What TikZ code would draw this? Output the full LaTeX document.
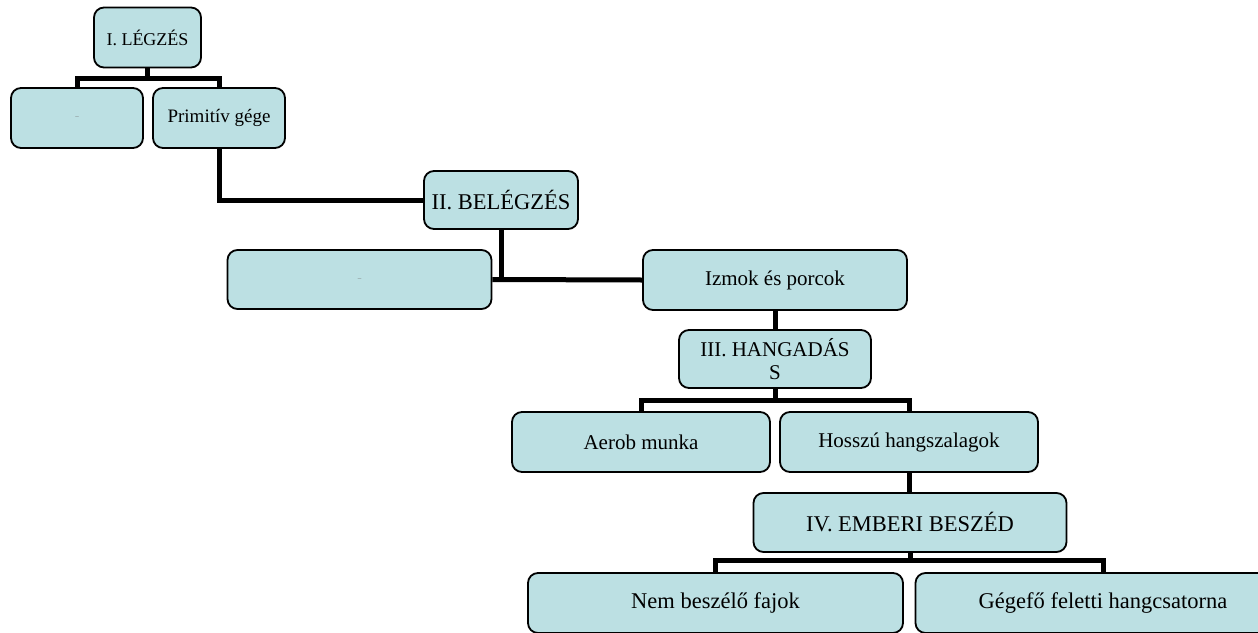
\documentclass[tikz,border=0pt]{standalone}
\usepackage{fontspec}
\setmainfont{Liberation Serif}
\definecolor{boxfill}{HTML}{BCE0E3}
\tikzset{
  orgbox/.style={draw=black, line width=1.8pt, fill=boxfill, rounded corners=10pt,
    align=center, inner sep=2pt, font=\fontsize{21}{24}\selectfont},
  bigtext/.style={font=\fontsize{22.5}{26}\selectfont},
  conn/.style={line width=5pt, black}
}
\begin{document}
\begin{tikzpicture}[x=1pt, y=-1pt]
    % Page frame
    \clip (0,0) rectangle (1258,632);
    \fill[white] (0,0) rectangle (1258,632);

    % Draw boxes
    \node[orgbox, minimum width=107pt, minimum height=60pt, font=\fontsize{18}{21}\selectfont] (legz) at (147.5,37.5) {I. LÉGZÉS};
    \node[orgbox, minimum width=132pt, minimum height=60pt, font=\fontsize{7}{8}\selectfont, text=black!55] (empty1) at (77,118) {–};
    \node[orgbox, minimum width=132pt, minimum height=60pt, font=\fontsize{19}{22}\selectfont] (gege) at (219,118) {Primitív gége};
    \node[orgbox, bigtext, minimum width=154pt, minimum height=58pt] (beleg) at (501,200) {II. BELÉGZÉS};
    \node[orgbox, minimum width=264pt, minimum height=59pt, font=\fontsize{7}{8}\selectfont, text=black!55] (empty2) at (359.5,279.5) {–};
    \node[orgbox, minimum width=264pt, minimum height=60pt] (izmok) at (775,280) {Izmok és porcok};
    \node[orgbox, minimum width=192pt, minimum height=58pt, font=\fontsize{21}{23}\selectfont] (hang) at (775,359) {III. HANGADÁS\\S};
    \node[orgbox, minimum width=258pt, minimum height=60pt] (aerob) at (641,442) {Aerob munka};
    \node[orgbox, minimum width=258pt, minimum height=60pt] (szalag) at (909,442) {Hosszú hangszalagok};
    \node[orgbox, bigtext, minimum width=313pt, minimum height=59pt] (ember) at (910,522.5) {IV. EMBERI BESZÉD};
    \node[orgbox, bigtext, minimum width=375pt, minimum height=60pt] (nemfaj) at (715.5,603) {Nem beszélő fajok};
    \node[orgbox, bigtext, minimum width=375pt, minimum height=60pt] (csat) at (1103,603) {Gégefő feletti hangcsatorna};

    % Draw connectors
    \coordinate (bar1) at (147.5,78);
    \draw[conn] (legz.south) -- (bar1);
    \draw[conn] (empty1.north) |- (bar1) -| (gege.north);
    \draw[conn] (gege.south) |- (beleg.west);
    \draw[conn] (beleg.south) -- (beleg.south |- izmok.west);
    \draw[conn] (empty2.east) -- (izmok.west);
    \draw[conn] (izmok.south) -- (hang.north);
    \coordinate (bar2) at (775,400);
    \draw[conn] (hang.south) -- (bar2);
    \draw[conn] (aerob.north) |- (bar2) -| (szalag.north);
    \draw[conn] (szalag.south) -- (szalag.south |- ember.north);
    \coordinate (bar3) at (910,560);
    \draw[conn] (ember.south) -- (bar3);
    \draw[conn] (nemfaj.north) |- (bar3) -| (csat.north);
\end{tikzpicture}
\end{document}
